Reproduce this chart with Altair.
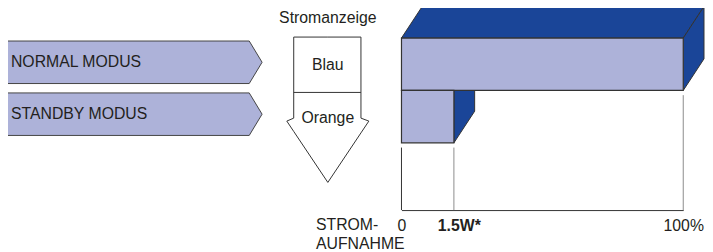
import altair as alt
import pandas as pd

# ---------------- data ----------------
MODES = ["NORMAL MODUS", "STANDBY MODUS"]
POWER_PCT = [100, 18.6]            # bar length on the 0..100 % scale
INDICATOR_TITLE = "Stromanzeige"
INDICATORS = ["Blau", "Orange"]
TICK_VALUES = [0, 18.6, 100]
TICK_LABELS = ["0", "1.5W*", "100%"]
BOLD_TICK = 18.6
AXIS_TITLE = ["STROM-", "AUFNAHME"]

# ---------------- style ----------------
LAV = "#adb2d9"
BLUE = "#1a4598"
EDGE = "#333333"
GRAY = "#8c8c8c"
TXT = "#231f20"
FONT = "Liberation Sans"
FS = 16

W, H = 705, 203                      # view; page origin at (8, 8)
PXX = alt.Scale(domain=[8, 8 + W], range=[0, W], nice=False, zero=False)
PXY = alt.Scale(domain=[8, 8 + H], range=[0, H], nice=False, zero=False)
VX = alt.Scale(domain=[0, 100], range=[398, 683], nice=False, zero=False)
VY = alt.Scale(domain=[0, 2], range=[29, 135], nice=False, zero=False)
DX = 21 / 285 * 100                  # 3-D depth in value units
DY = 32 / 53                         # 3-D depth in row units
GAP = 0.09

# ---------------- left: mode pentagons ----------------
pent = []
for i, m in enumerate(MODES):
    top = 40 + i * 52.5
    bot = top + 43
    mid = (top + bot) / 2
    for x, y, y2 in [(7, top, bot), (252, top, bot), (265, mid, mid)]:
        pent.append(dict(mode=m, x=x, y=y, y2=y2, mid=mid))
pent_df = pd.DataFrame(pent)
lab_df = pent_df.drop_duplicates("mode")

pentagons = alt.Chart(pent_df).mark_area(
    fill=LAV, stroke="#444444", strokeWidth=1, opacity=1, interpolate="linear"
).encode(
    x=alt.X("x:Q", scale=PXX, axis=None),
    y=alt.Y("y:Q", scale=PXY, axis=None, stack=None),
    y2="y2:Q",
    detail="mode:N",
)
mode_text = alt.Chart(lab_df).mark_text(
    align="left", baseline="middle", font=FONT, fontSize=FS, color=TXT
).encode(
    x=alt.X("tx:Q", scale=PXX, axis=None),
    y=alt.Y("mid:Q", scale=PXY, axis=None),
    text="mode:N",
).transform_calculate(tx="11")

# ---------------- middle: indicator arrow ----------------
L, R, C = 297, 365, 331.5            # shaft edges and tip centre
WL, WR = 290, 373                    # wing tips
TOP, SH, WY, TIP = 36, 118, 121, 183
slope = (TIP - WY) / (C - WL)
def bottom(x):
    return TIP - abs(x - C) * slope
arrow_df = pd.DataFrame(dict(
    x=[WL, L - 0.01, L, C, R, R + 0.01, WR],
    y=[WY, SH, TOP, TOP, TOP, SH, WY],
    y2=[WY, bottom(L - 0.01), bottom(L), TIP, bottom(R), bottom(R + 0.01), WY],
))
arrow = alt.Chart(arrow_df).mark_area(
    fill="white", stroke=EDGE, strokeWidth=1, opacity=1, interpolate="linear"
).encode(
    x=alt.X("x:Q", scale=PXX, axis=None),
    y=alt.Y("y:Q", scale=PXY, axis=None, stack=None),
    y2="y2:Q",
)
div_df = pd.DataFrame(dict(x=[L], x2=[R], y=[92]))
divider = alt.Chart(div_df).mark_rule(stroke=EDGE, strokeWidth=1).encode(
    x=alt.X("x:Q", scale=PXX, axis=None),
    x2="x2:Q",
    y=alt.Y("y:Q", scale=PXY, axis=None),
)
ind_df = pd.DataFrame(dict(
    label=[INDICATOR_TITLE] + INDICATORS,
    x=[C] * (1 + len(INDICATORS)),
    y=[17] + [64 + 54 * i for i in range(len(INDICATORS))],
))
ind_text = alt.Chart(ind_df).mark_text(
    align="center", baseline="middle", font=FONT, fontSize=FS, color=TXT
).encode(
    x=alt.X("x:Q", scale=PXX, axis=None),
    y=alt.Y("y:Q", scale=PXY, axis=None),
    text="label:N",
)

# ---------------- right: 3-D bars ----------------
bars_df = pd.DataFrame(dict(
    mode=MODES, value=POWER_PCT,
    row=list(range(len(MODES))),
))
bars_df["row1"] = bars_df["row"] + 1
bars_df["zero"] = 0

faces = []
for i, (m, v) in enumerate(zip(MODES, POWER_PCT)):
    t, b = i, i + 1
    for x, y, y2 in [(0, t, t), (DX, t - DY, t), (v, t - DY, t), (v + DX, t - DY, t - DY)]:
        faces.append(dict(face=f"{i}top", x=x, y=y, y2=y2))
    for x, y, y2 in [(v, t, b), (v + DX, t - DY, b - DY)]:
        faces.append(dict(face=f"{i}side", x=x, y=y, y2=y2))
faces_df = pd.DataFrame(faces)

face_layer = alt.Chart(faces_df).mark_area(
    fill=BLUE, stroke=EDGE, strokeWidth=1, opacity=1, interpolate="linear"
).encode(
    x=alt.X("x:Q", scale=VX, axis=None),
    y=alt.Y("y:Q", scale=VY, axis=None, stack=None),
    y2="y2:Q",
    detail="face:N",
)

rules = [dict(x=v, y=i + 1 + GAP, kind="bar") for i, v in enumerate(POWER_PCT)]
rules.append(dict(x=0, y=len(MODES) + GAP, kind="zero"))
rules_df = pd.DataFrame(rules)
rule_layer = alt.Chart(rules_df).mark_rule(strokeWidth=1).encode(
    x=alt.X("x:Q", scale=VX, axis=None),
    y=alt.Y("y:Q", scale=VY, axis=None),
    y2=alt.value("height"),
    color=alt.Color("kind:N", scale=alt.Scale(domain=["bar", "zero"], range=[GRAY, EDGE]), legend=None),
)

label_expr = " : ".join(
    f"datum.value == {v} ? '{l}'" for v, l in zip(TICK_VALUES[:-1], TICK_LABELS[:-1])
) + f" : '{TICK_LABELS[-1]}'"

front_layer = alt.Chart(bars_df).mark_rect(
    fill=LAV, stroke=EDGE, strokeWidth=1.2, opacity=1
).encode(
    x=alt.X("zero:Q", scale=VX, axis=alt.Axis(
        orient="bottom", values=TICK_VALUES, labelExpr=label_expr,
        grid=False, ticks=False, tickSize=0, labelPadding=8,
        labelFont=FONT, labelFontSize=FS, labelColor=TXT,
        labelFontWeight={"condition": {"test": f"datum.value == {BOLD_TICK}", "value": "bold"}, "value": "normal"},
        labelOffset={"condition": {"test": f"datum.value == {BOLD_TICK}", "value": 5}, "value": 0},
        labelFlush=False, labelOverlap=False,
        domainColor=EDGE, domainWidth=1,
        title=AXIS_TITLE, titleX=311, titleY=7, titleAlign="left", titleBaseline="top",
        titleAngle=0, titleFont=FONT, titleFontSize=FS, titleFontWeight="normal",
        titleColor=TXT, titleLineHeight=19,
    )),
    x2="value:Q",
    y=alt.Y("row:Q", scale=VY, axis=None),
    y2="row1:Q",
)

chart = alt.layer(
    pentagons, mode_text, arrow, divider, ind_text,
    rule_layer, face_layer, front_layer,
).resolve_scale(x="independent", y="independent").properties(
    width=W, height=H,
    autosize="none",
    padding={"left": 0, "top": 0, "right": 0, "bottom": 41},
).configure_view(stroke=None)

chart.save("out.html", embed_options={"renderer": "svg", "actions": False})
